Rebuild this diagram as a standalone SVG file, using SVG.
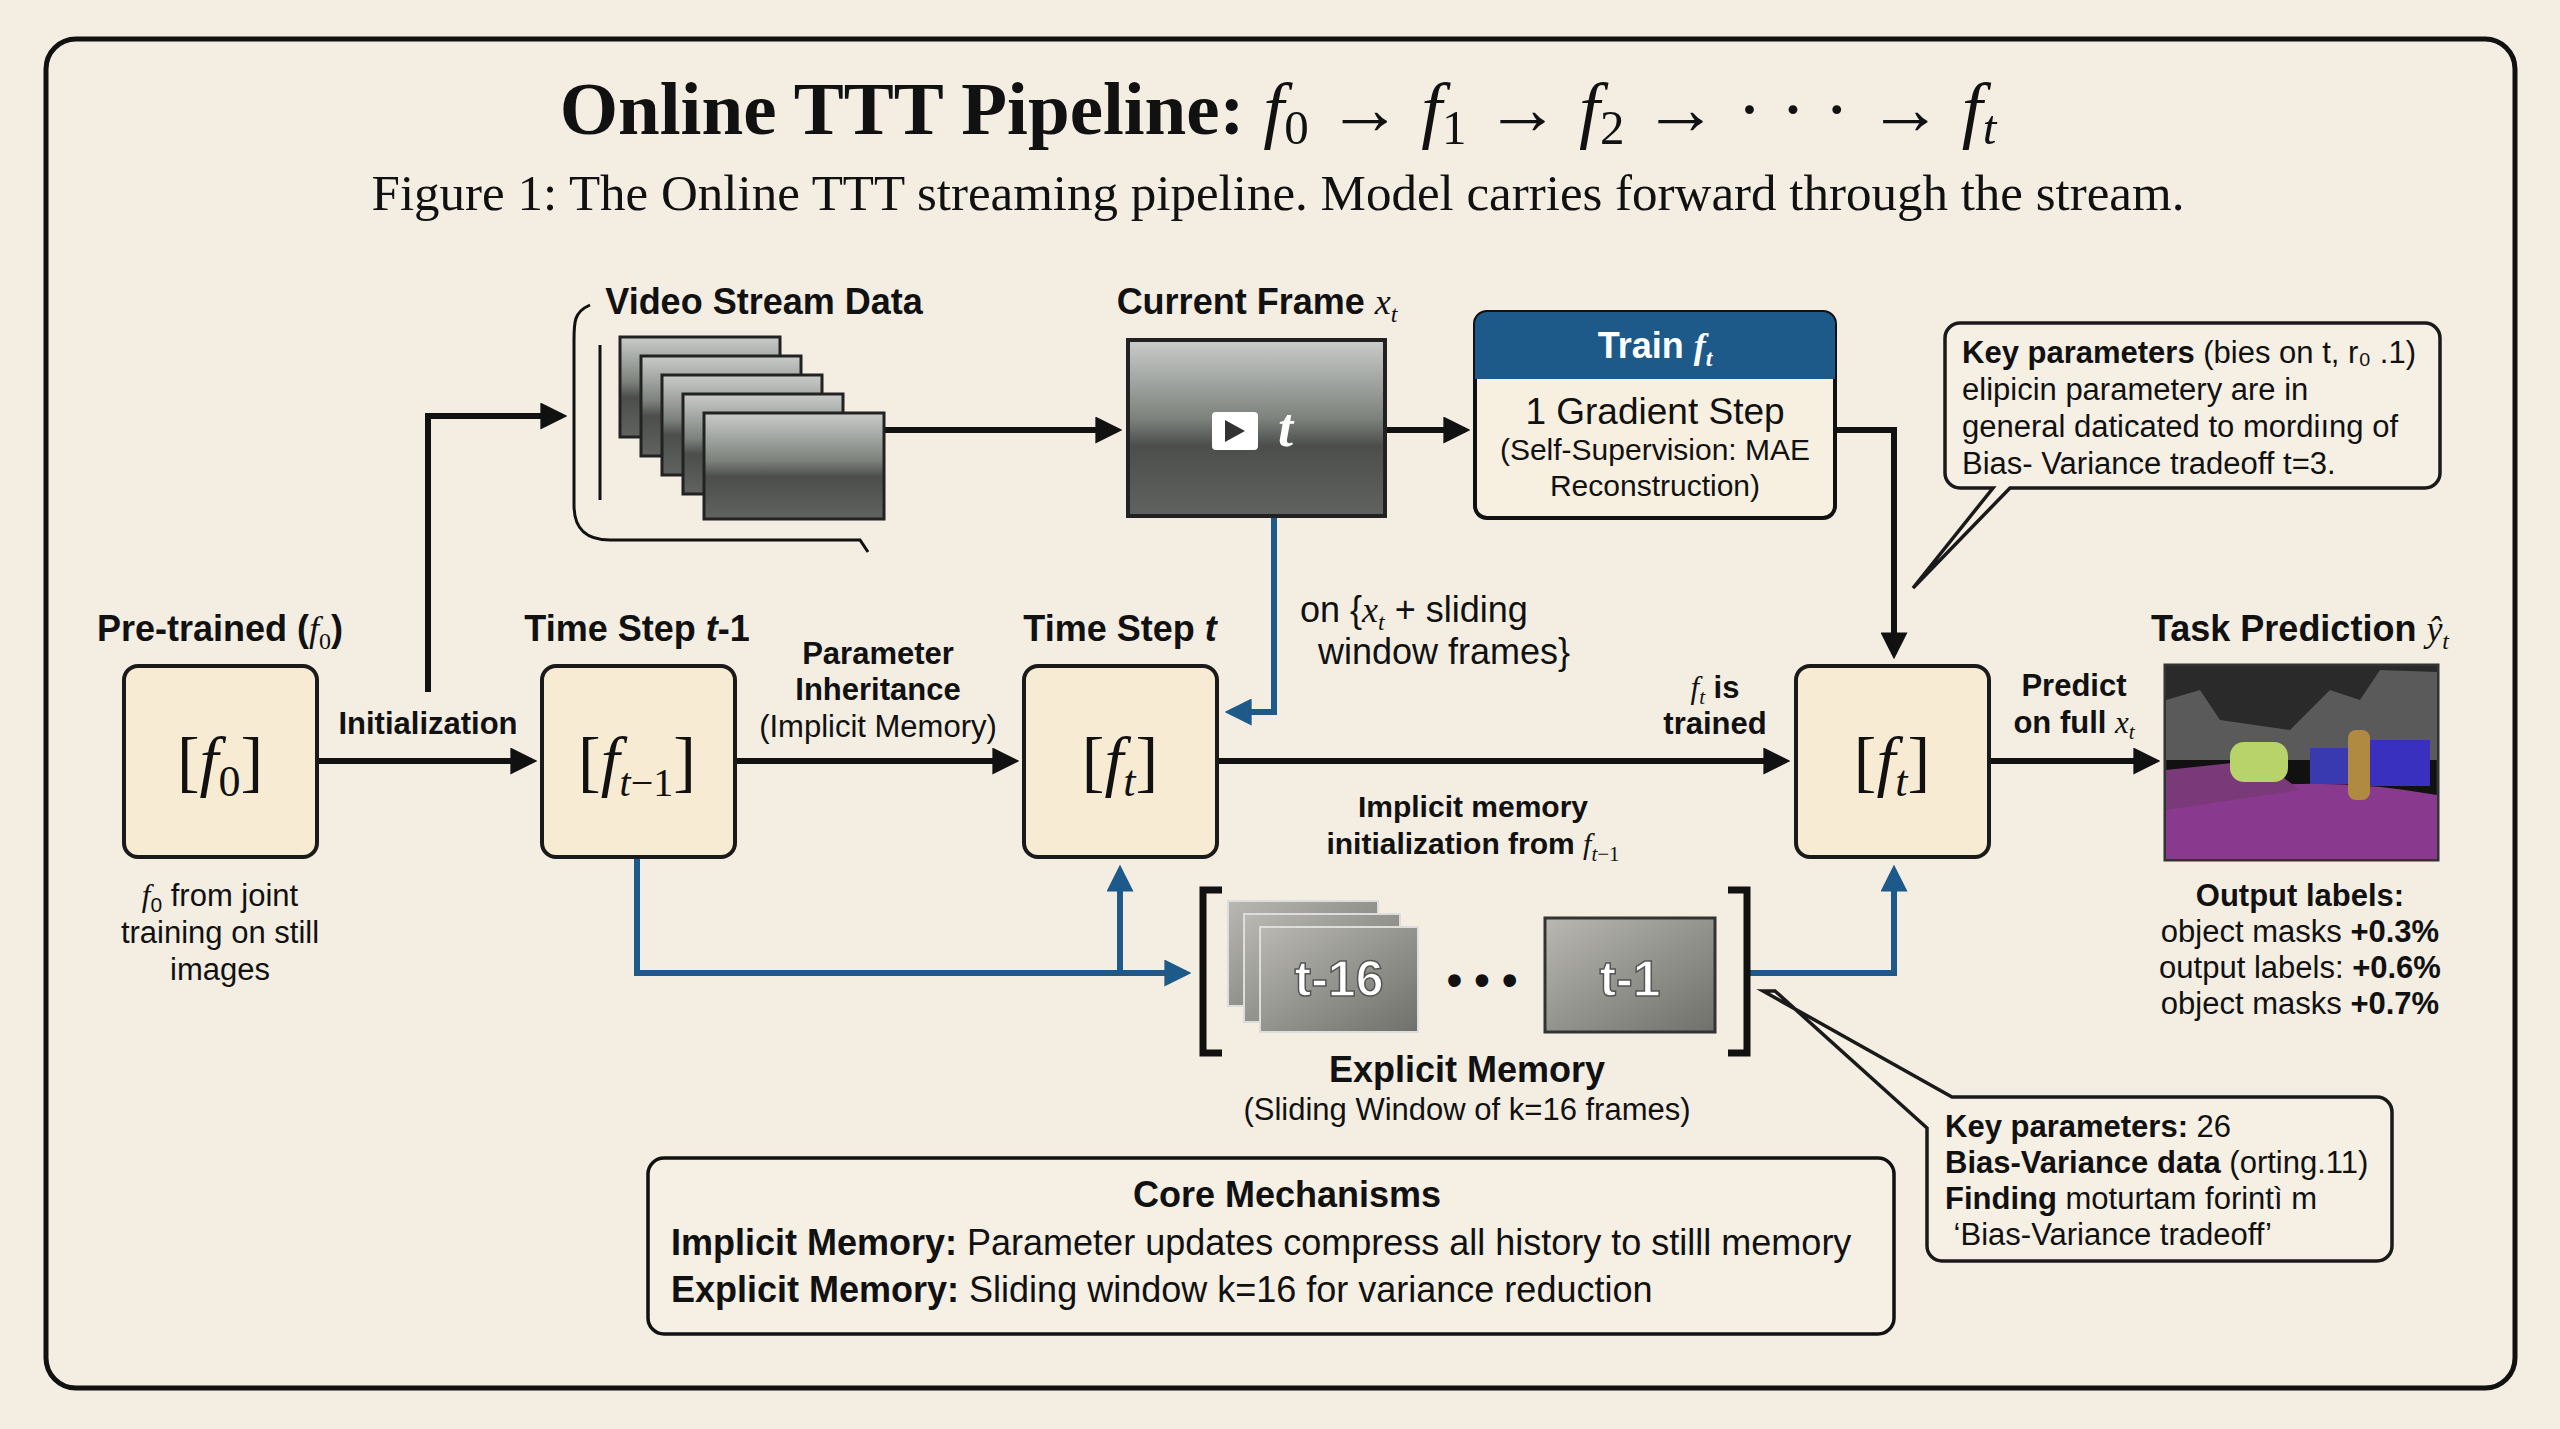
<svg xmlns="http://www.w3.org/2000/svg" width="2560" height="1429" viewBox="0 0 2560 1429">
<defs>
<style>
.s{font-family:"Liberation Sans",Arial,sans-serif;fill:#111}
.b{font-weight:bold}
.r{font-family:"Liberation Serif","Times New Roman",serif;fill:#111}
.node{fill:#f7ebd3;stroke:#1a1a1a;stroke-width:4}
.k{fill:none;stroke:#111;stroke-width:6}
.u{fill:none;stroke:#1d5a8a;stroke-width:6}
.call{fill:#f5efe4;stroke:#1a1a1a;stroke-width:3.5}
</style>
<marker id="ak" viewBox="0 0 10 10" refX="8" refY="5" markerWidth="4.5" markerHeight="4.5" orient="auto"><path d="M0,0L10,5L0,10z" fill="#111"/></marker>
<marker id="au" viewBox="0 0 10 10" refX="8" refY="5" markerWidth="4.5" markerHeight="4.5" orient="auto"><path d="M0,0L10,5L0,10z" fill="#1d5a8a"/></marker>
<linearGradient id="street" x1="0" y1="0" x2="0" y2="1"><stop offset="0" stop-color="#c9ccc9"/><stop offset="0.45" stop-color="#7d817c"/><stop offset="0.6" stop-color="#4b4e4b"/><stop offset="1" stop-color="#606360"/></linearGradient>
<linearGradient id="mem" x1="0" y1="0" x2="1" y2="1"><stop offset="0" stop-color="#b9b8b2"/><stop offset="1" stop-color="#6f706b"/></linearGradient>
</defs>
<rect width="2560" height="1429" fill="#f3ede2"/>
<rect x="46" y="39" width="2469" height="1349" rx="30" fill="#f3ede2" stroke="#111" stroke-width="5"/>
<text x="1278" y="134" text-anchor="middle" class="r" font-size="75"><tspan font-weight="bold">Online TTT Pipeline: </tspan><tspan font-style="italic">f</tspan><tspan font-size="49" dy="10">0</tspan><tspan dy="-10"> → </tspan><tspan font-style="italic">f</tspan><tspan font-size="49" dy="10">1</tspan><tspan dy="-10"> → </tspan><tspan font-style="italic">f</tspan><tspan font-size="49" dy="10">2</tspan><tspan dy="-10"> → · · · → </tspan><tspan font-style="italic">f</tspan><tspan font-size="49" dy="10" font-style="italic">t</tspan></text>
<text x="1278" y="210" text-anchor="middle" class="r" font-size="51">Figure 1: The Online TTT streaming pipeline. Model carries forward through the stream.</text>

<g id="connectors">
<path class="k" d="M317,761H532" marker-end="url(#ak)"/>
<path class="k" d="M428,692V416H562" marker-end="url(#ak)"/>
<path class="k" d="M735,761H1014" marker-end="url(#ak)"/>
<path class="k" d="M1217,761H1785" marker-end="url(#ak)"/>
<path class="k" d="M1989,761H2155" marker-end="url(#ak)"/>
<path class="k" d="M885,430H1117" marker-end="url(#ak)"/>
<path class="k" d="M1385,430H1465" marker-end="url(#ak)"/>
<path class="k" d="M1835,430H1894V654" marker-end="url(#ak)"/>
<path class="u" d="M1274,518V712H1230" marker-end="url(#au)"/>
<path class="u" d="M637,857V973H1186" marker-end="url(#au)"/>
<path class="u" d="M1120,973V870" marker-end="url(#au)"/>
<path class="u" d="M1747,973H1894V870" marker-end="url(#au)"/>
</g>

<g id="video">
<path d="M590,305C574,312 574,322 574,340V505C574,528 585,540 610,540H860L868,552" fill="none" stroke="#111" stroke-width="3"/>
<line x1="600" y1="345" x2="600" y2="500" stroke="#111" stroke-width="3"/>
<g stroke="#222" stroke-width="3">
<rect x="620" y="337" width="160" height="100" fill="url(#street)"/>
<rect x="641" y="356" width="160" height="100" fill="url(#street)"/>
<rect x="662" y="375" width="160" height="100" fill="url(#street)"/>
<rect x="683" y="394" width="160" height="100" fill="url(#street)"/>
<rect x="704" y="413" width="180" height="106" fill="url(#street)"/>
</g>
<text x="764" y="314" text-anchor="middle" class="s b" font-size="36">Video Stream Data</text>
</g>

<g id="current">
<rect x="1128" y="340" width="257" height="176" fill="url(#street)" stroke="#222" stroke-width="4"/>
<rect x="1212" y="412" width="46" height="38" rx="4" fill="#fff"/>
<path d="M1225,420L1245,431L1225,442z" fill="#333"/>
<text x="1278" y="446" class="r" font-style="italic" font-weight="bold" font-size="54" style="fill:#fff">t</text>
<text x="1257" y="314" text-anchor="middle" class="s b" font-size="36">Current Frame <tspan class="r" font-style="italic" font-weight="normal">x</tspan><tspan class="r" font-style="italic" font-weight="normal" font-size="24" dy="8">t</tspan></text>
</g>

<g id="train">
<rect x="1475" y="312" width="360" height="206" rx="12" fill="#f7efe0" stroke="#111" stroke-width="4"/>
<path d="M1487,312H1823A12,12 0 0 1 1835,324V379H1475V324A12,12 0 0 1 1487,312z" fill="#1d5a8a"/>
<text x="1655" y="358" text-anchor="middle" class="s b" font-size="36" style="fill:#fff">Train <tspan class="r" font-style="italic" style="fill:#fff">f</tspan><tspan class="r" font-style="italic" font-size="24" dy="8" style="fill:#fff">t</tspan></text>
<text x="1655" y="424" text-anchor="middle" class="s" font-size="37">1 Gradient Step</text>
<text x="1655" y="460" text-anchor="middle" class="s" font-size="30">(Self-Supervision: MAE</text>
<text x="1655" y="496" text-anchor="middle" class="s" font-size="30">Reconstruction)</text>
</g>

<g id="callout1">
<path class="call" d="M1960,323H2425A15,15 0 0 1 2440,338V473A15,15 0 0 1 2425,488H2010L1913,588L1993,488H1960A15,15 0 0 1 1945,473V338A15,15 0 0 1 1960,323z"/>
<text class="s" font-size="31"><tspan x="1962" y="363"><tspan font-weight="bold">Key parameters</tspan> (bies on t, r₀ .1)</tspan><tspan x="1962" y="400">elipicin parametery are in</tspan><tspan x="1962" y="437">general daticated to mordiıng of</tspan><tspan x="1962" y="474">Bias- Variance tradeoff t=3.</tspan></text>
</g>

<g id="f0">
<rect class="node" x="124" y="666" width="193" height="191" rx="14"/>
<text x="220" y="784" text-anchor="middle" class="r" font-size="68">[<tspan font-style="italic">f</tspan><tspan font-size="44" dy="12">0</tspan><tspan dy="-12">]</tspan></text>
<text x="220" y="641" text-anchor="middle" class="s b" font-size="36">Pre-trained (<tspan class="r" font-style="italic" font-weight="normal">f</tspan><tspan class="r" font-weight="normal" font-size="24" dy="8">0</tspan><tspan dy="-8">)</tspan></text>
<text x="428" y="734" text-anchor="middle" class="s b" font-size="31">Initialization</text>
<text text-anchor="middle" class="s" font-size="31"><tspan x="220" y="906"><tspan class="r" font-style="italic">f</tspan><tspan font-size="21" dy="6">0</tspan><tspan dy="-6"> from joint</tspan></tspan><tspan x="220" y="943">training on still</tspan><tspan x="220" y="980">images</tspan></text>
</g>

<g id="ftm1">
<rect class="node" x="542" y="666" width="193" height="191" rx="14"/>
<text x="637" y="784" text-anchor="middle" class="r" font-size="68">[<tspan font-style="italic">f</tspan><tspan font-size="40" dy="12" font-style="italic">t</tspan><tspan font-size="40">−1</tspan><tspan dy="-12">]</tspan></text>
<text x="637" y="641" text-anchor="middle" class="s b" font-size="36">Time Step <tspan font-style="italic">t</tspan>-1</text>
<text text-anchor="middle" class="s" font-size="31"><tspan x="878" y="664" font-weight="bold">Parameter</tspan><tspan x="878" y="700" font-weight="bold">Inheritance</tspan><tspan x="878" y="737">(Implicit Memory)</tspan></text>
</g>

<g id="ft">
<rect class="node" x="1024" y="666" width="193" height="191" rx="14"/>
<text x="1120" y="784" text-anchor="middle" class="r" font-size="68">[<tspan font-style="italic">f</tspan><tspan font-size="44" dy="12" font-style="italic">t</tspan><tspan dy="-12">]</tspan></text>
<text x="1120" y="641" text-anchor="middle" class="s b" font-size="36">Time Step <tspan font-style="italic">t</tspan></text>
<text class="s" font-size="36"><tspan x="1300" y="622">on {<tspan class="r" font-style="italic">x</tspan><tspan font-size="24" dy="8" class="r" font-style="italic">t</tspan><tspan dy="-8"> + sliding</tspan></tspan><tspan x="1318" y="664">window frames}</tspan></text>
<text text-anchor="middle" class="s b" font-size="30"><tspan x="1473" y="817">Implicit memory</tspan><tspan x="1473" y="854">initialization from <tspan class="r" font-style="italic" font-weight="normal">f</tspan><tspan class="r" font-style="italic" font-weight="normal" font-size="21" dy="7">t</tspan><tspan class="r" font-weight="normal" font-size="21">−1</tspan></tspan></text>
<text text-anchor="middle" class="s b" font-size="31"><tspan x="1715" y="698"><tspan class="r" font-style="italic" font-weight="normal">f</tspan><tspan class="r" font-style="italic" font-weight="normal" font-size="21" dy="6">t</tspan><tspan dy="-6"> is</tspan></tspan><tspan x="1715" y="734">trained</tspan></text>
</g>

<g id="ftr">
<rect class="node" x="1796" y="666" width="193" height="191" rx="14"/>
<text x="1892" y="784" text-anchor="middle" class="r" font-size="68">[<tspan font-style="italic">f</tspan><tspan font-size="44" dy="12" font-style="italic">t</tspan><tspan dy="-12">]</tspan></text>
<text text-anchor="middle" class="s b" font-size="31"><tspan x="2074" y="696">Predict</tspan><tspan x="2074" y="733">on full <tspan class="r" font-style="italic" font-weight="normal">x</tspan><tspan class="r" font-style="italic" font-weight="normal" font-size="21" dy="6">t</tspan></tspan></text>
</g>

<g id="prediction">
<rect x="2165" y="665" width="273" height="195" fill="#111" stroke="#333" stroke-width="3"/>
<rect x="2166" y="666" width="271" height="90" fill="#2a2a2a"/>
<path d="M2166,700L2200,690L2220,720L2290,730L2330,690L2360,700L2380,670L2437,672V760H2166z" fill="#5a5a5a"/>
<path d="M2166,800Q2300,770 2437,795V859H2166z" fill="#8a3a8e"/>
<path d="M2166,770L2260,760L2300,790L2166,810z" fill="#7a3a7a"/>
<rect x="2230" y="742" width="58" height="40" rx="14" fill="#b8d36a"/>
<rect x="2310" y="748" width="48" height="36" fill="#3a3ab0"/>
<rect x="2370" y="740" width="60" height="46" fill="#3a30c0"/>
<rect x="2348" y="730" width="22" height="70" rx="8" fill="#b08a40"/>
<text x="2300" y="641" text-anchor="middle" class="s b" font-size="36">Task Prediction <tspan class="r" font-style="italic" font-weight="normal">ŷ</tspan><tspan class="r" font-style="italic" font-weight="normal" font-size="24" dy="8">t</tspan></text>
<text text-anchor="middle" class="s" font-size="31"><tspan x="2300" y="906" font-weight="bold">Output labels:</tspan><tspan x="2300" y="942">object masks <tspan font-weight="bold">+0.3%</tspan></tspan><tspan x="2300" y="978">output labels: <tspan font-weight="bold">+0.6%</tspan></tspan><tspan x="2300" y="1014">object masks <tspan font-weight="bold">+0.7%</tspan></tspan></text>
</g>

<g id="explicit">
<path d="M1222,890H1203V1053H1222M1728,890H1747V1053H1728" fill="none" stroke="#111" stroke-width="7"/>
<rect x="1228" y="901" width="150" height="105" fill="url(#mem)" stroke="#ddd" stroke-width="2"/>
<rect x="1244" y="914" width="156" height="108" fill="url(#mem)" stroke="#ddd" stroke-width="2"/>
<rect x="1260" y="927" width="158" height="105" fill="url(#mem)" stroke="#ddd" stroke-width="2"/>
<text x="1339" y="996" text-anchor="middle" class="s b" font-size="50" style="fill:#fff;stroke:#555;stroke-width:1.5">t-16</text>
<text x="1482" y="995" text-anchor="middle" class="s b" font-size="44">• • •</text>
<rect x="1545" y="918" width="170" height="114" fill="url(#mem)" stroke="#333" stroke-width="3"/>
<text x="1630" y="996" text-anchor="middle" class="s b" font-size="50" style="fill:#fff;stroke:#555;stroke-width:1.5">t-1</text>
<text x="1467" y="1082" text-anchor="middle" class="s b" font-size="36">Explicit Memory</text>
<text x="1467" y="1120" text-anchor="middle" class="s" font-size="31">(Sliding Window of k=16 frames)</text>
</g>

<g id="core">
<rect x="648" y="1158" width="1246" height="176" rx="16" fill="#f5efe4" stroke="#111" stroke-width="3.5"/>
<text x="1287" y="1207" text-anchor="middle" class="s b" font-size="36">Core Mechanisms</text>
<text class="s" font-size="36"><tspan x="671" y="1255"><tspan font-weight="bold">Implicit Memory:</tspan> Parameter updates compress all history to stilll memory</tspan><tspan x="671" y="1302"><tspan font-weight="bold">Explicit Memory:</tspan> Sliding window k=16 for variance reduction</tspan></text>
</g>

<g id="callout2">
<path class="call" d="M1763,991L1952,1097H2377A15,15 0 0 1 2392,1112V1246A15,15 0 0 1 2377,1261H1942A15,15 0 0 1 1927,1246V1128L1775,991z"/>
<text class="s" font-size="31"><tspan x="1945" y="1137"><tspan font-weight="bold">Key parameters:</tspan> 26</tspan><tspan x="1945" y="1173"><tspan font-weight="bold">Bias-Variance data</tspan> (orting.11)</tspan><tspan x="1945" y="1209"><tspan font-weight="bold">Finding</tspan> moturtam forintì m</tspan><tspan x="1945" y="1245"> ‘Bias-Variance tradeoff’</tspan></text>
</g>
</svg>
